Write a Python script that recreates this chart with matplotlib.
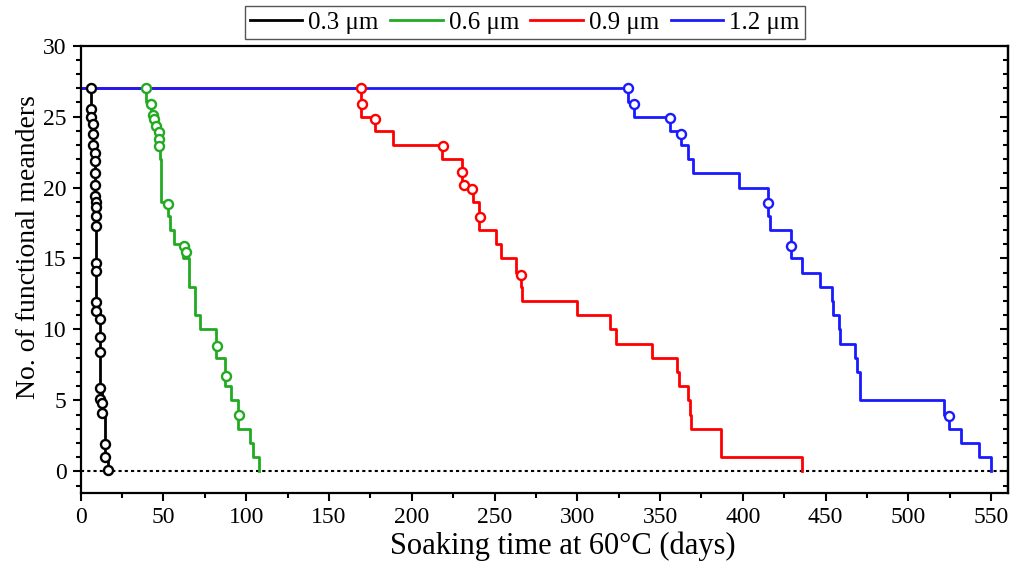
import matplotlib
matplotlib.use("Agg")
import matplotlib.pyplot as plt
from matplotlib.ticker import MultipleLocator

plt.rcParams["font.family"] = ["Liberation Serif", "DejaVu Serif"]
plt.rcParams["mathtext.fontset"] = "stix"

# step curves: vertical drop at each time, value held until the next time
t_03 = [0, 6.4, 7.4, 8.4, 9.4, 11.4, 13.0, 15.0, 16.4]
n_03 = [27, 25, 23, 19.4, 11.3, 5.9, 4.1, 1.0, 0]
t_06 = [0, 39.2, 42.4, 43.6, 44.8, 46.4, 47.8, 48.4, 53.0, 54.2, 56.6, 61.8, 65.4,
        69.3, 71.9, 81.7, 87.3, 90.8, 94.8, 102.0, 104.4, 108.0]
n_06 = [27, 26, 25.3, 24.8, 24.3, 23.5, 22, 19, 18, 17, 16, 15, 13,
        11, 10, 8, 6, 5, 3, 2, 1, 0]
t_09 = [0, 169.3, 177.5, 188.7, 218.4, 230.5, 237.0, 240.5, 251.0, 254.0, 263.0, 265.7,
        266.7, 299.8, 319.7, 323.3, 345.0, 360.0, 361.4, 366.9, 367.9, 368.7, 386.5, 435.7]
n_09 = [27, 25, 24, 23, 22, 20, 19, 17, 16, 15, 14, 13,
        12, 11, 10, 9, 8, 7, 6, 5, 4, 3, 1, 0]
t_12 = [0, 330.7, 334.3, 356.0, 362.4, 367.0, 369.9, 397.6, 415.2, 416.3, 429.3, 436.0,
        446.8, 453.8, 454.6, 457.8, 458.6, 467.9, 468.7, 470.7, 521.7, 524.5, 531.7, 542.8, 549.8]
n_12 = [27, 26, 25, 24, 23, 22, 21, 20, 18, 17, 15, 14,
        13, 12, 11, 10, 9, 8, 7, 5, 4, 3, 2, 1, 0]

# open-circle marks on each curve
mx_03 = [6.4, 6.0, 6.0, 7.4, 7.4, 7.4, 8.4, 8.4, 8.4, 8.4, 8.4, 9.4, 9.4, 9.4, 9.4,
         9.4, 9.4, 9.4, 9.4, 11.4, 11.4, 11.4, 11.4, 11.4, 13.0, 13.0, 15.0, 15.0, 16.4]
my_03 = [27, 25.5, 25.0, 24.5, 23.8, 23.0, 22.4, 21.9, 21.0, 20.2, 19.4, 19.0, 18.6, 18.0, 17.3,
         14.7, 14.1, 11.9, 11.3, 10.7, 9.5, 8.4, 5.9, 5.1, 4.8, 4.1, 1.9, 1.0, 0.1]
mx_06 = [39.2, 42.6, 43.4, 44.6, 45.4, 47.2, 47.6, 47.6, 53.0, 62.2, 63.5, 82.3, 88.0, 95.4]
my_06 = [27, 25.9, 25.1, 24.8, 24.3, 23.9, 23.4, 22.9, 18.85, 15.85, 15.45, 8.8, 6.7, 4.0]
mx_09 = [169.3, 169.9, 177.5, 218.9, 230.3, 231.3, 236.5, 241.0, 265.7]
my_09 = [27, 25.9, 24.8, 22.9, 21.1, 20.2, 19.9, 17.9, 13.85]
mx_12 = [330.7, 334.3, 356.0, 362.4, 415.2, 429.3, 524.5]
my_12 = [27, 25.85, 24.9, 23.8, 18.9, 15.85, 3.9]

labels = ["0.3 μm", "0.6 μm", "0.9 μm", "1.2 μm"]
colors = ["#000000", "#22aa22", "#ff0000", "#1a1aff"]

fig = plt.figure(figsize=(10.21, 5.63), dpi=100)
ax = fig.add_axes([0.079, 0.125, 0.908, 0.794])

ax.axhline(0, color="black", lw=1.5, ls=(0, (1.5, 1.5)), zorder=1)

series = [(t_03, n_03, mx_03, my_03), (t_06, n_06, mx_06, my_06),
          (t_09, n_09, mx_09, my_09), (t_12, n_12, mx_12, my_12)]
handles = []
for (t, n, mx, my), lab, c in zip(series, labels, colors):
    h, = ax.step(t, n, where="post", color=c, lw=2, label=lab, zorder=2)
    ax.plot(mx, my, "o", ms=6.5, mfc="white", mec=c, mew=1.7, zorder=3)
    handles.append(h)

ax.set_xlim(0, 560)
ax.set_ylim(-1.5, 30)
ax.xaxis.set_major_locator(MultipleLocator(50))
ax.xaxis.set_minor_locator(MultipleLocator(25))
ax.yaxis.set_major_locator(MultipleLocator(5))
ax.yaxis.set_minor_locator(MultipleLocator(1))
ax.tick_params(which="both", direction="out", top=False, right=False, labelsize=17, width=1.5)
ax.tick_params(which="major", length=6, pad=4)
ax.tick_params(which="minor", length=3.5)
for s in ax.spines.values():
    s.set_linewidth(1.6)

sec = ax.secondary_yaxis("right")
sec.yaxis.set_major_locator(MultipleLocator(5))
sec.yaxis.set_minor_locator(MultipleLocator(1))
sec.tick_params(which="both", direction="in", labelright=False, width=1.5)
sec.tick_params(which="major", length=6)
sec.tick_params(which="minor", length=3.5)
sec.spines["right"].set_linewidth(1.6)

ax.set_xlabel("Soaking time at 60°C (days)", fontsize=22)
ax.set_ylabel("No. of functional meanders", fontsize=20)
ax.xaxis.set_label_coords(0.52, -0.088)
ax.yaxis.set_label_coords(-0.043, 0.549)

fig.legend(handles=handles, loc="center", bbox_to_anchor=(0.514, 0.960), ncol=4,
           fontsize=18, frameon=True, fancybox=False, edgecolor="#555555",
           handlelength=2.1, columnspacing=0.45, handletextpad=0.25,
           borderpad=0.2, borderaxespad=0, framealpha=1)

fig.savefig("out.png", dpi=100)
